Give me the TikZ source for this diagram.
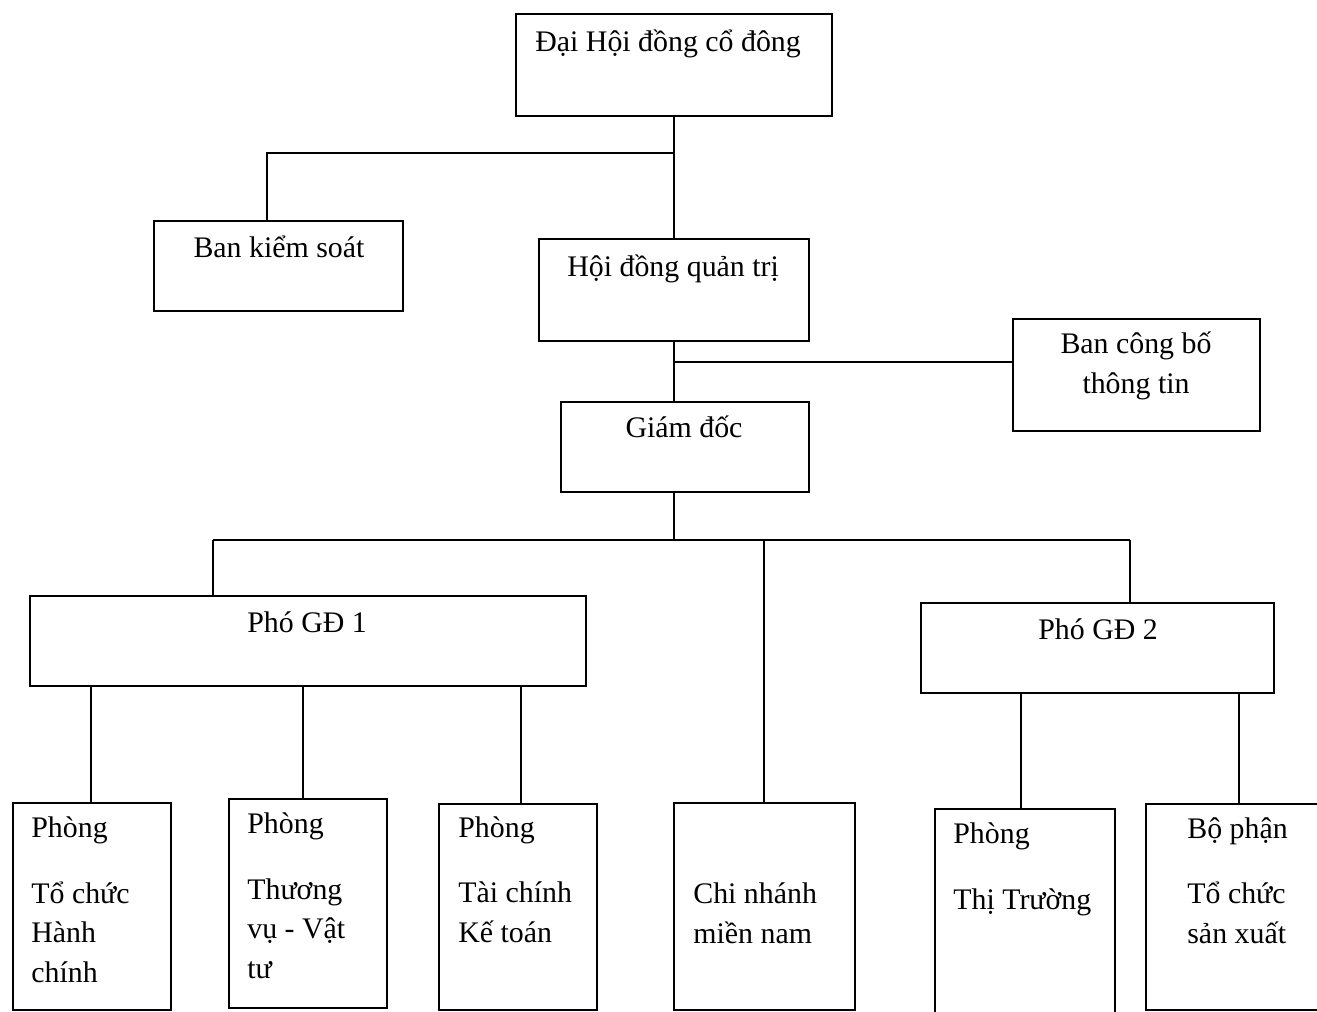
\documentclass[tikz,border=0pt]{standalone}
\usepackage{fontspec}
\setmainfont{Liberation Serif}

\tikzset{
  box/.style n args={2}{draw, line width=1.1pt, anchor=north west, inner sep=0pt,
    minimum width=#1*0.02cm, minimum height=#2*0.02cm},
  txt/.style={anchor=base west, inner sep=0pt, align=left},
  link/.style={line width=1.1pt},
}

\begin{document}
\begin{tikzpicture}[x=0.02cm, y=-0.02cm, font=\fontsize{17}{22.4}\selectfont]
		\clip (0,0) rectangle (1317,1011);
		% upper levels (text nodes sit on the baseline of their last line)
		\node[box={316}{102}] (dhd) at (515,13) {};
		\node[txt] (dhdT) at (535,51) {Đại Hội đồng cổ đông};
		\node[box={249}{90}] (bks) at (153,220) {};
		\node[txt, anchor=base] (bksT) at (279,257) {Ban kiểm soát};
		\node[box={270}{102}] (hdqt) at (538,238) {};
		\node[txt] (hdqtT) at (567,276) {Hội đồng quản trị};
		\node[box={247}{112}] (cbtt) at (1012,318) {};
		\node[txt, anchor=base, align=center] (cbttT) at (1136,393) {Ban công bố\\thông tin};
		\node[box={248}{90}] (gd) at (560,401) {};
		\node[txt, anchor=base] (gdT) at (684,437) {Giám đốc};
		\node[box={556}{90}] (pgd1) at (29,595) {};
		\node[txt] (pgd1T) at (247,632) {Phó GĐ 1};
		\node[box={353}{90}] (pgd2) at (920,602) {};
		\node[txt] (pgd2T) at (1038,639) {Phó GĐ 2};
		
		% departments
		\node[box={158}{207}] (tchc) at (12,802) {};
		\node[txt] (tchcT) at (31,982) {Phòng\\[0.52cm]Tổ chức\\Hành\\chính};
		\node[box={158}{209}] (tmvt) at (228,798) {};
		\node[txt] (tmvtT) at (247,978) {Phòng\\[0.52cm]Thương\\vụ - Vật\\tư};
		\node[box={158}{206}] (tckt) at (438,803) {};
		\node[txt] (tcktT) at (458,942) {Phòng\\[0.52cm]Tài chính\\Kế toán};
		\node[box={181}{207}] (cnmn) at (673,802) {};
		\node[txt] (cnmnT) at (693,943) {Chi nhánh\\miền nam};
		\node[box={180}{240}] (ptt) at (934,808) {};
		\node[txt] (pttT) at (953,909) {Phòng\\[0.52cm]Thị Trường};
		\node[box={190}{206}] (bpsx) at (1145,803) {};
		\node[txt] (bpsxT) at (1187,943) {Bộ phận\\[0.52cm]Tổ chức\\sản xuất};
		
		% connectors
		\coordinate (j1) at (673,153);
		\coordinate (j2) at (673,362);
		\coordinate (bl) at (213,540);
		\coordinate (bm) at (764,540);
		\coordinate (br) at (1130,540);
		\draw[link] (dhd.south) -- (hdqt.north);
		\draw[link] (j1) -| (bks.north -| 267,0);
		\draw[link] (hdqt.south) -- (hdqt.south |- gd.north);
		\draw[link] (j2) -- (cbtt.west |- j2);
		\draw[link] (hdqt.south |- gd.south) -- (hdqt.south |- bl);
		\draw[link] (bl) -- (br);
		\draw[link] (bl) -- (bl |- pgd1.north);
		\draw[link] (br) -- (br |- pgd2.north);
		\draw[link] (bm) -- (bm |- cnmn.north);
		\draw[link] (pgd1.south -| 91,0) -- (tchc.north -| 91,0);
		\draw[link] (pgd1.south -| 303,0) -- (tmvt.north -| 303,0);
		\draw[link] (pgd1.south -| 521,0) -- (tckt.north -| 521,0);
		\draw[link] (pgd2.south -| 1021,0) -- (ptt.north -| 1021,0);
		\draw[link] (pgd2.south -| 1239,0) -- (bpsx.north -| 1239,0);
\end{tikzpicture}
\end{document}
